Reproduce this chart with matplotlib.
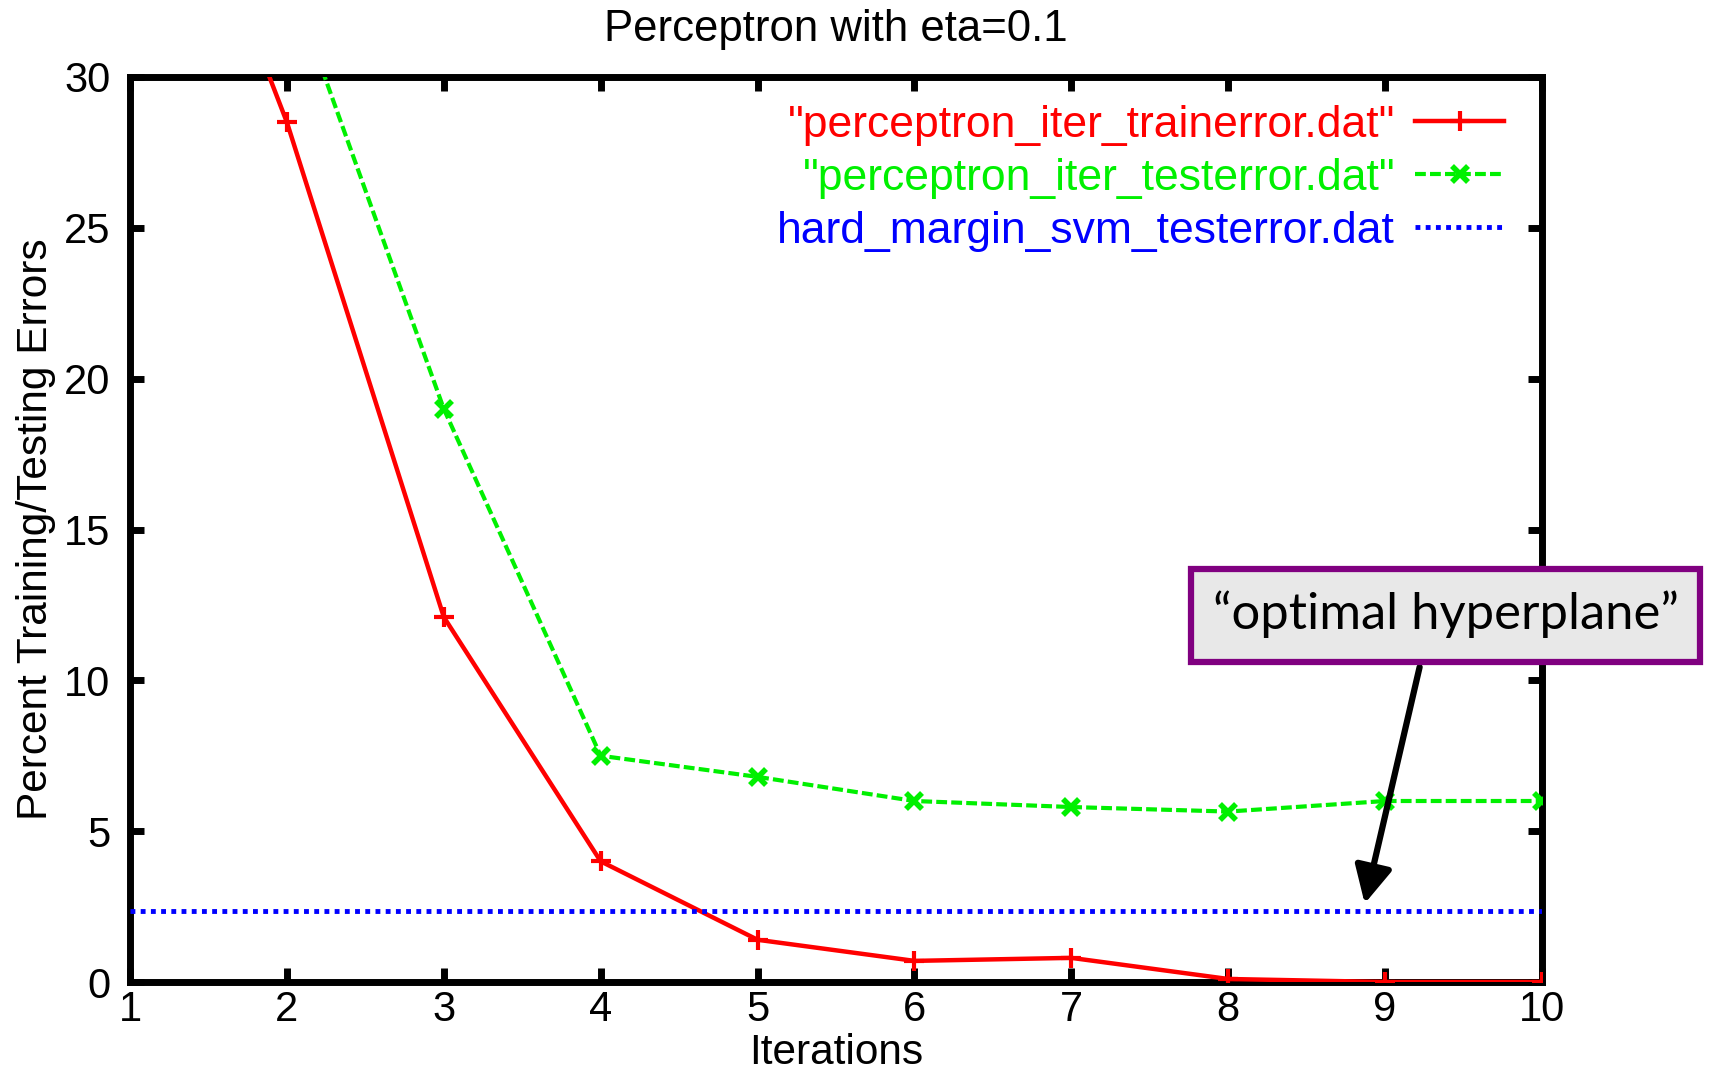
import matplotlib
matplotlib.use("Agg")
import matplotlib.pyplot as plt
from matplotlib.patches import Rectangle

# ---- data ----
iterations = [1, 2, 3, 4, 5, 6, 7, 8, 9, 10]
train_error = [42.0, 28.5, 12.1, 4.0, 1.4, 0.7, 0.8, 0.1, 0.0, 0.0]
test_error = [48.0, 33.5, 19.0, 7.5, 6.8, 6.0, 5.8, 5.65, 6.0, 6.0]
svm_test_error = 2.35
x_ticks = [1, 2, 3, 4, 5, 6, 7, 8, 9, 10]
y_ticks = [0, 5, 10, 15, 20, 25, 30]
labels = ['"perceptron_iter_trainerror.dat"',
          '"perceptron_iter_testerror.dat"',
          'hard_margin_svm_testerror.dat']
title = "Perceptron with eta=0.1"
xlabel = "Iterations"
ylabel = "Percent Training/Testing Errors"
note = "\u201coptimal hyperplane\u201d"
arrow_tip = (8.87, 2.6)
arrow_tail = (9.22, 10.44)

plt.rcParams['font.family'] = ['Liberation Sans', 'DejaVu Sans']

W, H = 1709, 1071
fig = plt.figure(figsize=(W / 100, H / 100), dpi=100)
L, R, T, B = 130, 1542, 77, 982
ax = fig.add_axes([L / W, 1 - B / H, (R - L) / W, (B - T) / H])

ax.plot(iterations, train_error, color='#ff0000', lw=3.2, marker='+',
        ms=14, mew=3, label=labels[0], zorder=3)
ax.plot(iterations, test_error, color='#00f000', lw=3.0, ls=(0, (2.6, 1.0)),
        marker='x', ms=12, mew=4, label=labels[1], zorder=3)
ax.axhline(svm_test_error, color='#0000ff', lw=3.5, ls=(0, (1, 1.1)),
           dash_capstyle='butt', label=labels[2], zorder=3)

ax.set_xlim(1, 10)
ax.set_ylim(0, 30)
ax.set_xticks(x_ticks)
ax.set_yticks(y_ticks)
for s in ax.spines.values():
    s.set_linewidth(5)
ax.tick_params(direction='in', length=10, width=5, top=True, right=True,
               labelsize=30)
ax.tick_params(axis='x', pad=6)
ax.tick_params(axis='y', pad=14)

ax.set_title(title, fontsize=31.5, pad=26)
ax.set_xlabel(xlabel, fontsize=30.5, labelpad=2)
ax.set_ylabel(ylabel, fontsize=30.5, labelpad=6)

leg = ax.legend(loc='upper right', bbox_to_anchor=(1504 / W, 1 - 105 / H),
                bbox_transform=fig.transFigure, frameon=False, markerfirst=False,
                fontsize=32, handlelength=2.0, handletextpad=0.45,
                labelspacing=0.27, borderpad=0, borderaxespad=0,
                labelcolor='linecolor')

# annotation box
bx0, by0, bx1, by1 = 1191, 569, 1700, 662
fig.patches.append(Rectangle((bx0 / W, 1 - by1 / H), (bx1 - bx0) / W, (by1 - by0) / H,
                             transform=fig.transFigure, facecolor='#e8e8e8',
                             edgecolor='#800080', lw=4.5, zorder=5))
fig.text((bx0 + bx1) / 2 / W, 1 - 614 / H, note, ha='center', va='center',
         fontsize=36.5, family=['Lato', 'DejaVu Sans'], zorder=6)

ax.annotate('', xy=arrow_tip, xytext=arrow_tail,
            arrowprops=dict(arrowstyle='-|>,head_length=0.75,head_width=0.38',
                            lw=4.5, color='black', mutation_scale=30,
                            shrinkA=0, shrinkB=0))

fig.savefig('out.png', dpi=100)
